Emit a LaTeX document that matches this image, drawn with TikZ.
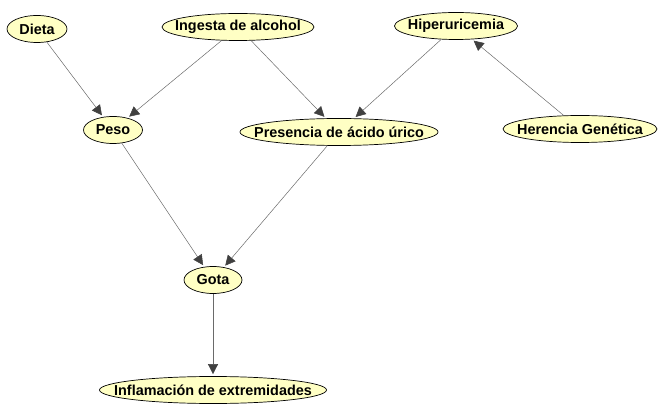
\documentclass[tikz,border=0pt]{standalone}
\usepackage{fontspec}
\setmainfont{Liberation Sans}
\usetikzlibrary{shapes.geometric}
\usetikzlibrary{arrows.meta}
\definecolor{tipgray}{HTML}{404040}
\definecolor{linegray}{HTML}{6A6A6A}
\definecolor{paleyellow}{HTML}{FFFFC4}
\tikzset{>={Triangle[width=10pt,length=10pt,color=tipgray]}}
\tikzset{
  factor/.style={ellipse, draw=black, fill=paleyellow, line width=0.7pt,
    inner sep=-30pt, minimum height=27pt,
    font=\bfseries\fontsize{14.4}{16}\selectfont},
  link/.style={->, draw=linegray, line width=0.5pt, shorten >=2pt}
}

\begin{document}
\begin{tikzpicture}[x=1pt,y=-1pt]

  \useasboundingbox (0,0) rectangle (663,419);

  %% top row
  \node[factor, minimum width=60pt]  (dieta)   at (37,29)  {Dieta};
  \node[factor, minimum width=152pt] (alcohol) at (238,27) {Ingesta de alcohol};
  \node[factor, minimum width=123pt] (hiper)   at (456,26) {Hiperuricemia};

  %% middle row
  \node[factor, minimum width=59pt]  (peso)     at (113,130) {Peso};
  \node[factor, minimum width=198pt] (acido)    at (339,132) {Presencia de ácido úrico};
  \node[factor, minimum width=154pt] (herencia) at (580,129) {Herencia Genética};

  %% bottom
  \node[factor, minimum width=58pt]  (gota)  at (213,280) {Gota};
  \node[factor, minimum width=227pt] (infla) at (213,390) {Inflamación de extremidades};

  \draw[link] (dieta) -- (peso);
  \draw[link] (alcohol) -- (peso);
  \draw[link] (alcohol) -- (acido);
  \draw[link] (hiper) -- (acido);
  \draw[link] (herencia) -- (hiper); %% goes upward
  \draw[link] (peso) -- (gota);
  \draw[link] (acido) -- (gota);
  \draw[link] (gota) -- (infla);

\end{tikzpicture}
\end{document}
